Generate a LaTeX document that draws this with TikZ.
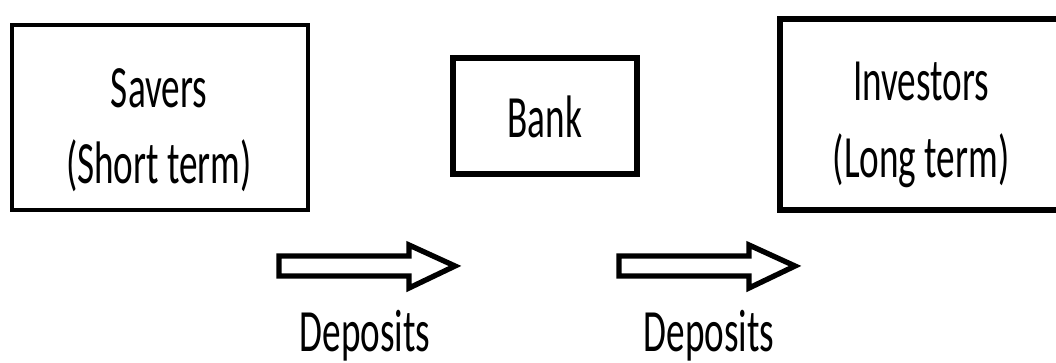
\documentclass[tikz,border=0pt]{standalone}
\usepackage{fontspec}
\usepackage{graphicx}
\setmainfont{Carlito}
\newcommand\sq[1]{\scalebox{0.62}[1]{#1}}
\tikzset{
  boxline/.style={draw=black, line width=#1, fill=none},
  lbl/.style={anchor=base, inner sep=0pt, font=\fontsize{45}{57}\selectfont},
  fatarrow/.style={draw=black, line width=4pt, fill=white, line join=miter},
}
\begin{document}
\begin{tikzpicture}[x=0.75pt,y=-0.75pt]
\useasboundingbox (0,0) rectangle (1056,362);
\clip (0,0) rectangle (1056,362);
\fill[white] (0,0) rectangle (1056,362);
% boxes
\draw[boxline=3.6pt] (12,25) coordinate (sv1) rectangle (308,210) coordinate (sv2);
\draw[boxline=4.5pt] (453,58) coordinate (bk1) rectangle (637,174) coordinate (bk2);
\draw[boxline=4.5pt] (780,19) coordinate (iv1) rectangle (1064,210) coordinate (iv2);
% texts
\node[lbl] (savers) at (159,107) {\sq{Savers}};
\node[lbl] (saversterm) at (159,183) {\sq{(Short term)}};
\node[lbl] (bank) at (545,137) {\sq{Bank}};
\node[lbl] (investors) at (921,100) {\sq{Investors}};
\node[lbl] (investorsterm) at (921,177) {\sq{(Long term)}};
% arrows
\coordinate (a1) at (279,266);
\draw[fatarrow] ([shift={(0,-10)}]a1) -- ++(130,0) -- ++(0,-11) -- ++(46,21) -- ++(-46,22) -- ++(0,-12) -- ++(-130,0) -- cycle;
\coordinate (a2) at (619,266);
\draw[fatarrow] ([shift={(0,-10)}]a2) -- ++(130,0) -- ++(0,-11) -- ++(46,21) -- ++(-46,22) -- ++(0,-12) -- ++(-130,0) -- cycle;
\node[lbl] (dep1) at (365,351) {\sq{Deposits}};
\node[lbl] (dep2) at (709,351) {\sq{Deposits}};
\end{tikzpicture}
\end{document}
